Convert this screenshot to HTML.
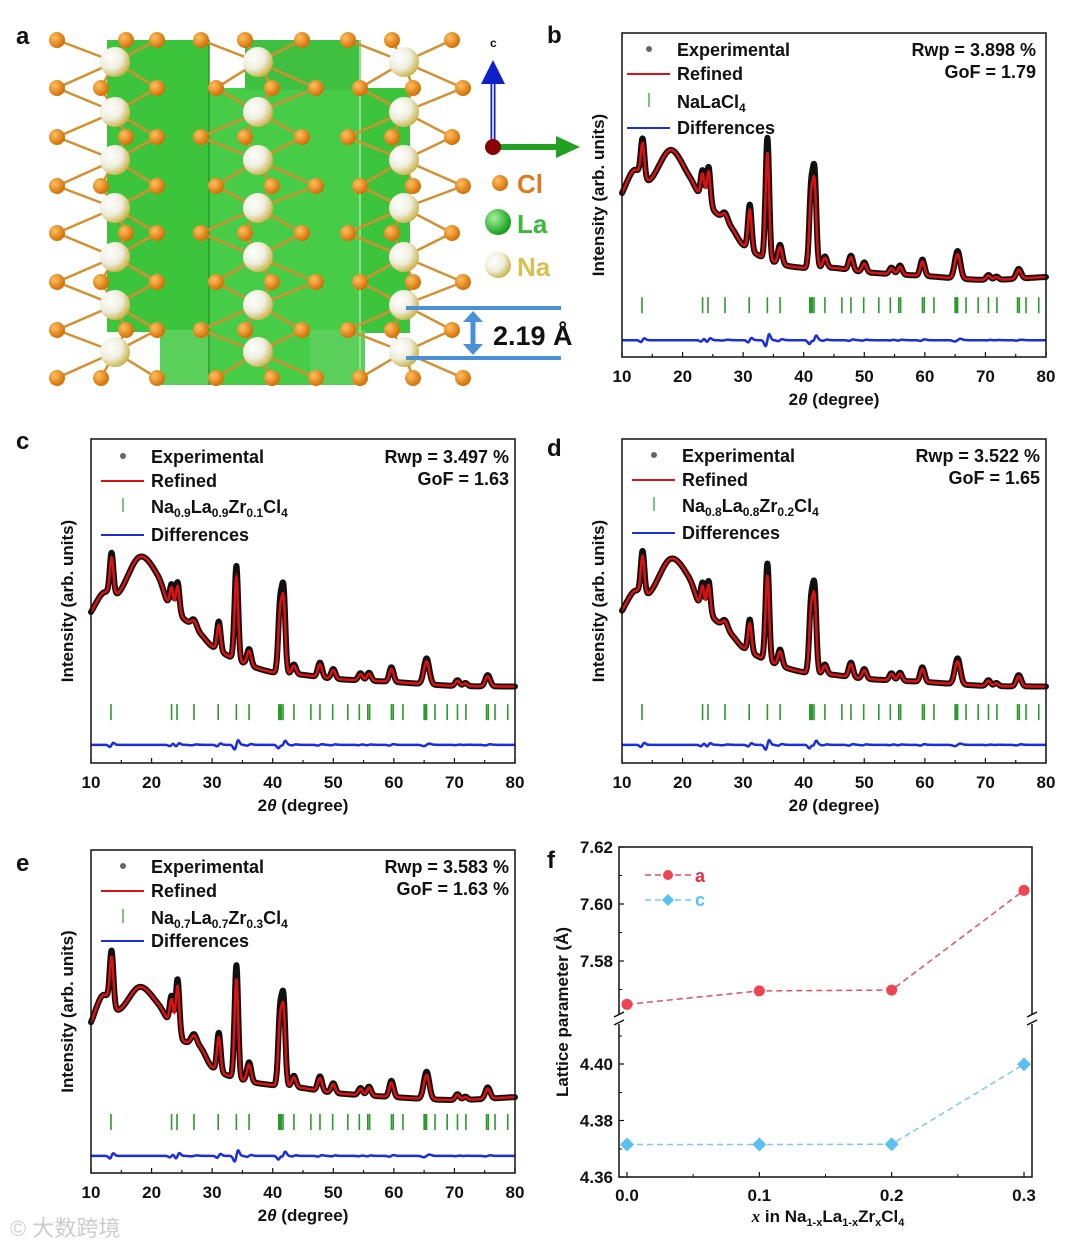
<!DOCTYPE html>
<html><head><meta charset="utf-8">
<style>
body{margin:0;background:#fff;}
svg{display:block;font-family:"Liberation Sans",Arial,sans-serif;}
.t{font-weight:bold;fill:#111;}
</style></head>
<body>
<svg id="fig" width="1080" height="1249" viewBox="0 0 1080 1249" xmlns="http://www.w3.org/2000/svg">
<defs>
<radialGradient id="naG" cx="35%" cy="35%" r="70%"><stop offset="0" stop-color="#ffffff"/><stop offset="0.55" stop-color="#eeeede"/><stop offset="1" stop-color="#c9b040"/></radialGradient>
<radialGradient id="clG" cx="35%" cy="35%" r="70%"><stop offset="0" stop-color="#ffc060"/><stop offset="1" stop-color="#d06a00"/></radialGradient>
<radialGradient id="laG" cx="35%" cy="35%" r="70%"><stop offset="0" stop-color="#a8f0a0"/><stop offset="1" stop-color="#0a9a10"/></radialGradient>
</defs>
<text class="t" x="16" y="44" font-size="24">a</text>
<text class="t" x="547" y="43" font-size="24">b</text>
<text class="t" x="16" y="449" font-size="24">c</text>
<text class="t" x="547" y="456" font-size="24">d</text>
<text class="t" x="16" y="871" font-size="24">e</text>
<text class="t" x="547" y="868" font-size="24">f</text>

<g id="structure">
  <rect x="107" y="40" width="102" height="292" fill="#3cc43c"/>
  <rect x="209" y="88" width="151" height="297" fill="#46cc46"/>
  <rect x="245" y="40" width="115" height="50" fill="#40c040"/>
  <rect x="360" y="88" width="50" height="245" fill="#3cc43c"/>
  <rect x="160" y="330" width="50" height="55" fill="#5ad05a"/>
  <rect x="310" y="330" width="55" height="55" fill="#5ad05a"/>
  <line x1="209" y1="40" x2="209" y2="385" stroke="#2a9a2a" stroke-width="1.5"/>
  <line x1="360" y1="40" x2="360" y2="385" stroke="#8fe08f" stroke-width="2"/>
  <g id="bonds"></g>
  <g id="atoms"></g>
</g>
<g>
  <line x1="493" y1="140" x2="493" y2="80" stroke="#1020c8" stroke-width="5"/>
  <line x1="493" y1="140" x2="493" y2="80" stroke="#fff" stroke-width="1.5"/>
  <polygon points="481,84 505,84 493,60" fill="#1020c8"/>
  <text x="490" y="47" font-size="12" class="t">c</text>
  <line x1="498" y1="147" x2="560" y2="147" stroke="#22a022" stroke-width="6"/>
  <polygon points="556,136 556,158 580,147" fill="#22a022"/>
  <circle cx="493" cy="147" r="8" fill="#8a0000"/>
</g>
<g>
  <circle cx="500" cy="183" r="8" fill="url(#clG)"/>
  <text x="517" y="193" font-size="26" class="t" style="fill:#e07a20">Cl</text>
  <circle cx="498" cy="222" r="13" fill="url(#laG)"/>
  <text x="517" y="233" font-size="26" class="t" style="fill:#3cb83c">La</text>
  <circle cx="498" cy="265" r="13" fill="url(#naG)"/>
  <text x="517" y="276" font-size="26" class="t" style="fill:#d8c050">Na</text>
</g>
<g>
  <line x1="406" y1="308" x2="561" y2="308" stroke="#4a90d8" stroke-width="4"/>
  <line x1="406" y1="358" x2="561" y2="358" stroke="#4a90d8" stroke-width="4"/>
  <line x1="473" y1="318" x2="473" y2="348" stroke="#4a90d8" stroke-width="5"/>
  <polygon points="463,322 483,322 473,311" fill="#4a90d8"/>
  <polygon points="463,344 483,344 473,355" fill="#4a90d8"/>
  <text x="493" y="345" font-size="27" class="t">2.19 Å</text>
</g>

<g id="panels"></g>
<g id="panelF"></g>
<text x="10" y="1236" font-size="22" fill="#ccc" font-family="'Liberation Sans','Noto Sans CJK SC',sans-serif">© 大数跨境</text>
</svg>
<script>
const peakPos   = [13.4, 23.3, 24.3, 27.0, 31.1, 34.0, 36.1, 41.2, 41.8, 43.5, 47.8, 50.0, 54.5, 55.9, 59.6, 65.4, 70.5, 71.8, 75.5];
const peakWidth = [0.3, 0.3, 0.3, 0.45, 0.3, 0.3, 0.35, 0.3, 0.3, 0.35, 0.35, 0.35, 0.35, 0.35, 0.35, 0.45, 0.35, 0.35, 0.4];
const tickPos   = [13.3, 23.3, 24.2, 27.0, 31.0, 34.0, 36.1, 41.0, 41.2, 41.4, 41.7, 43.5, 46.3, 47.8, 49.9, 52.4, 54.3, 55.7, 56.0, 59.6, 59.9, 61.5, 65.0, 65.2, 65.4, 66.8, 68.8, 70.5, 71.9, 75.3, 75.6, 76.7, 78.8];
const bgX = [10, 12, 14.5, 18, 21, 23, 25, 28, 30, 35, 40, 45, 50, 60, 70, 80];
const bgB = [506, 577, 546, 639, 562, 494, 454, 401, 346, 293, 275, 275, 262, 250, 238, 247];
const bgC = [466, 525, 525, 636, 580, 480, 450, 400, 360, 310, 280, 272, 260, 250, 238, 236];
const bgD = [470, 530, 525, 630, 575, 480, 448, 398, 356, 308, 280, 272, 260, 250, 238, 236];
const bgE = [467, 551, 505, 576, 526, 464, 412, 390, 328, 288, 272, 263, 248, 235, 226, 235];
const pkB = [117, 90, 120, 25, 140, 376, 60, 230, 280, 35, 45, 30, 20, 28, 50, 85, 15, 10, 30];
const pkC = [127, 80, 100, 25, 90, 290, 50, 200, 245, 30, 45, 30, 22, 25, 45, 80, 18, 10, 35];
const pkD = [130, 85, 105, 25, 100, 300, 50, 205, 250, 30, 45, 30, 22, 25, 45, 80, 18, 10, 35];
const pkE = [164, 93, 173, 30, 120, 350, 60, 216, 256, 35, 45, 30, 22, 28, 50, 85, 18, 10, 35];
const xTicks = [10, 20, 30, 40, 50, 60, 70, 80];

const panels = [
 {id:'b', L:622, R:1046, T:33, B:357, bg:bgB, pk:pkB, tickY:160, diffY:52, sub:[], rwp:'Rwp = 3.898 %', gof:'GoF = 1.79', legX:627, rows:[50,74,102,128], rightX:1036, ylabX:604},
 {id:'c', L:91, R:515, T:439, B:763, bg:bgC, pk:pkC, tickY:157, diffY:56, sub:['0.9','0.9','0.1'], rwp:'Rwp = 3.497 %', gof:'GoF = 1.63', legX:101, rows:[457,481,507,535], rightX:509, ylabX:73},
 {id:'d', L:622, R:1046, T:439, B:763, bg:bgD, pk:pkD, tickY:157, diffY:56, sub:['0.8','0.8','0.2'], rwp:'Rwp = 3.522 %', gof:'GoF = 1.65', legX:632, rows:[456,480,506,533], rightX:1040, ylabX:604},
 {id:'e', L:91, R:515, T:850, B:1173, bg:bgE, pk:pkE, tickY:158, diffY:53, sub:['0.7','0.7','0.3'], rwp:'Rwp = 3.583 %', gof:'GoF = 1.63 %', legX:101, rows:[867,891,918,941], rightX:509, ylabX:73}
];
const NS='http://www.w3.org/2000/svg';
function mk(tag, attrs, parent){const e=document.createElementNS(NS,tag);for(const k in attrs)e.setAttribute(k,attrs[k]);parent.appendChild(e);return e;}
function interp(xs, ys, x){
  const n=xs.length;
  for(let i=0;i<n-1;i++){
    if(x<=xs[i+1]){
      const t=(x-xs[i])/(xs[i+1]-xs[i]);
      const h=xs[i+1]-xs[i];
      const m0=i>0?(ys[i+1]-ys[i-1])/(xs[i+1]-xs[i-1]):(ys[i+1]-ys[i])/h;
      const m1=i<n-2?(ys[i+2]-ys[i])/(xs[i+2]-xs[i]):(ys[i+1]-ys[i])/h;
      const t2=t*t,t3=t2*t;
      return (2*t3-3*t2+1)*ys[i]+(t3-2*t2+t)*h*m0+(-2*t3+3*t2)*ys[i+1]+(t3-t2)*h*m1;
    }
  }
  return ys[n-1];
}

const root=document.getElementById('panels');
panels.forEach(p=>{
  const g=mk('g',{},root);
  
  
  const sx=v=>p.L+(v-10)/70*(p.R-p.L);
  const sy=v=>p.B-v/1000*(p.B-p.T);
  const prof=(x,scale)=>{let y=interp(bgX,p.bg,x);peakPos.forEach((c,i)=>{const w=peakWidth[i];y+=p.pk[i]*scale*Math.exp(-(x-c)*(x-c)/(2*w*w));});return y;};
  let dExp='',dRef='',dDiff='';
  for(let x=10;x<=80.001;x+=0.05){
    const X=sx(x).toFixed(1);
    dExp+=(dExp?'L':'M')+X+','+sy(prof(x,1)).toFixed(1);
    dRef+=(dRef?'L':'M')+X+','+sy(prof(x,0.88)).toFixed(1);
    let dv=p.diffY;
    peakPos.forEach((c,i)=>{const w=peakWidth[i];const u=(x-c)/w;dv+=p.pk[i]*0.08*u*Math.exp(-u*u/2);});
    dDiff+=(dDiff?'L':'M')+X+','+sy(dv).toFixed(1);
  }
  const ex=mk('path',{d:dExp,fill:'none',stroke:'#111','stroke-width':6,'stroke-linejoin':'round','stroke-linecap':'round'},g);
  
  
  const rf=mk('path',{d:dRef,fill:'none',stroke:'#e01010','stroke-width':2.5},g);
  
  
  const df=mk('path',{d:dDiff,fill:'none',stroke:'#1a2ee0','stroke-width':2.5},g);
  
  
  tickPos.forEach(t=>{
    const m=mk('line',{x1:sx(t),x2:sx(t),y1:sy(p.tickY)-8,y2:sy(p.tickY)+8,stroke:'#2a9a2a','stroke-width':1.6},g);
    
    
  });
  const fr=mk('rect',{x:p.L,y:p.T,width:p.R-p.L,height:p.B-p.T,fill:'none',stroke:'#111','stroke-width':1.5},g);
  
  
  for(let v=10;v<=80;v+=5){
    mk('line',{x1:sx(v),x2:sx(v),y1:p.B,y2:p.B-(v%10?3:5),stroke:'#111','stroke-width':1.2},g);
  }
  xTicks.forEach(v=>{
    const t=mk('text',{x:sx(v),y:p.B+25,'font-size':17,'text-anchor':'middle',class:'t'},g);
    t.textContent=v;
    
    
  });
  const xt=mk('text',{x:(p.L+p.R)/2,y:p.B+48,'font-size':17,'text-anchor':'middle',class:'t'},g);
  xt.innerHTML='2<tspan font-style="italic">θ</tspan> (degree)';
  
  
  const yt=mk('text',{x:0,y:0,'font-size':17,'text-anchor':'middle',class:'t',transform:`translate(${p.ylabX},${(p.T+p.B)/2}) rotate(-90)`},g);
  yt.textContent='Intensity (arb. units)';
  
  
  const lg=mk('g',{},g);
  
  
  const lx=p.legX, tx=p.legX+50;
  mk('circle',{cx:lx+22,cy:p.rows[0]-1,r:3,fill:'#666'},lg);
  mk('line',{x1:lx,x2:lx+43,y1:p.rows[1],y2:p.rows[1],stroke:'#e01010','stroke-width':2},lg);
  mk('line',{x1:lx+22,x2:lx+22,y1:p.rows[2]-9,y2:p.rows[2]+5,stroke:'#2a9a2a','stroke-width':1.2},lg);
  mk('line',{x1:lx,x2:lx+43,y1:p.rows[3],y2:p.rows[3],stroke:'#1a2ee0','stroke-width':2},lg);
  const labs=['Experimental','Refined',null,'Differences'];
  labs.forEach((s,i)=>{if(!s)return;const t=mk('text',{x:tx,y:p.rows[i]+6,'font-size':18,class:'t'},lg);t.textContent=s;});
  const ph=mk('text',{x:tx,y:p.rows[2]+6,'font-size':18,class:'t'},lg);
  if(p.sub.length){
    ph.innerHTML=`Na<tspan font-size="12" dy="4">${p.sub[0]}</tspan><tspan dy="-4">La</tspan><tspan font-size="12" dy="4">${p.sub[1]}</tspan><tspan dy="-4">Zr</tspan><tspan font-size="12" dy="4">${p.sub[2]}</tspan><tspan dy="-4">Cl</tspan><tspan font-size="12" dy="4">4</tspan>`;
  } else {
    ph.innerHTML='NaLaCl<tspan font-size="12" dy="4">4</tspan>';
  }
  const r1=mk('text',{x:p.rightX,y:p.rows[0]+6,'font-size':18,'text-anchor':'end',class:'t'},g);
  r1.textContent=p.rwp;
  
  
  const r2=mk('text',{x:p.rightX,y:p.rows[0]+28,'font-size':18,'text-anchor':'end',class:'t'},g);
  r2.textContent=p.gof;
  
  
});

const fX = [0.0, 0.1, 0.2, 0.3];
const fA = [7.5648, 7.5695, 7.5698, 7.6048];
const fC = [4.3715, 4.3715, 4.3716, 4.3999];
const fXTicks = ['0.0','0.1','0.2','0.3'];
const fTopTicks = [7.58, 7.60, 7.62];
const fBotTicks = [4.36, 4.38, 4.40];
(function(){
  const g=document.getElementById('panelF');
  
  
  const L=619,R=1032,T=847,B=1177;
  const sx=v=>627+(v-0)/0.3*(1024-627);
  const syTop=v=>904-(v-7.60)/0.02*57;
  const syBot=v=>1177-(v-4.36)/0.02*56.5;
  const fr=mk('rect',{x:L,y:T,width:R-L,height:B-T,fill:'none',stroke:'#111','stroke-width':1.5},g);
  
  
  [L,R].forEach(x=>{
    mk('rect',{x:x-4,y:1014,width:8,height:10,fill:'#fff'},g);
    mk('line',{x1:x-5,y1:1017,x2:x+5,y2:1012,stroke:'#111','stroke-width':1.5},g);
    mk('line',{x1:x-5,y1:1025,x2:x+5,y2:1020,stroke:'#111','stroke-width':1.5},g);
  });
  fTopTicks.forEach(v=>{
    const y=syTop(v);
    mk('line',{x1:L,x2:L+5,y1:y,y2:y,stroke:'#111','stroke-width':1.2},g);
    mk('line',{x1:L,x2:L+3,y1:y+28.5,y2:y+28.5,stroke:'#111','stroke-width':1},g);
    const t=mk('text',{x:L-6,y:y+6,'font-size':17,'text-anchor':'end',class:'t'},g);
    t.textContent=v.toFixed(2);
    
    
  });
  fBotTicks.forEach(v=>{
    const y=syBot(v);
    mk('line',{x1:L,x2:L+5,y1:y,y2:y,stroke:'#111','stroke-width':1.2},g);
    mk('line',{x1:L,x2:L+3,y1:y-28,y2:y-28,stroke:'#111','stroke-width':1},g);
    const t=mk('text',{x:L-6,y:y+6,'font-size':17,'text-anchor':'end',class:'t'},g);
    t.textContent=v.toFixed(2);
    
    
  });
  fX.forEach((v,i)=>{
    mk('line',{x1:sx(v),x2:sx(v),y1:B,y2:B-5,stroke:'#111','stroke-width':1.2},g);
    if(i<3) mk('line',{x1:sx(v+0.05),x2:sx(v+0.05),y1:B,y2:B-3,stroke:'#111','stroke-width':1},g);
    const t=mk('text',{x:sx(v),y:B+24,'font-size':17,'text-anchor':'middle',class:'t'},g);
    t.textContent=fXTicks[i];
    
    
  });
  const pa=mk('polyline',{points:fX.map((v,i)=>sx(v)+','+syTop(fA[i])).join(' '),fill:'none',stroke:'#e05060','stroke-width':1.5,'stroke-dasharray':'6,4'},g);
  
  
  const pc=mk('polyline',{points:fX.map((v,i)=>sx(v)+','+syBot(fC[i])).join(' '),fill:'none',stroke:'#7cc8ee','stroke-width':1.5,'stroke-dasharray':'6,4'},g);
  
  
  fX.forEach((v,i)=>{
    const c=mk('circle',{cx:sx(v),cy:syTop(fA[i]),r:5.5,fill:'#ee4450'},g);
    
    
    const X=sx(v),Y=syBot(fC[i]);
    const d=mk('polygon',{points:`${X},${Y-7} ${X+7},${Y} ${X},${Y+7} ${X-7},${Y}`,fill:'#5ac0f0'},g);
    
    
  });
  const lg=mk('g',{},g);
  
  
  mk('line',{x1:645,x2:692,y1:875,y2:875,stroke:'#e05060','stroke-width':1.5,'stroke-dasharray':'6,4'},lg);
  mk('circle',{cx:668,cy:875,r:5,fill:'#ee4450'},lg);
  const ta=mk('text',{x:695,y:882,'font-size':18,class:'t',style:'fill:#e03040'},lg); ta.textContent='a';
  mk('line',{x1:645,x2:692,y1:900,y2:900,stroke:'#7cc8ee','stroke-width':1.5,'stroke-dasharray':'6,4'},lg);
  mk('polygon',{points:'668,894 674,900 668,906 662,900',fill:'#5ac0f0'},lg);
  const tc=mk('text',{x:695,y:906,'font-size':18,class:'t',style:'fill:#5ac0f0'},lg); tc.textContent='c';
  const yt=mk('text',{x:0,y:0,'font-size':17,'text-anchor':'middle',class:'t',transform:'translate(568,1012) rotate(-90)'},g);
  yt.textContent='Lattice parameter (Å)';
  
  
  const xt=mk('text',{x:828,y:1222,'font-size':17,'text-anchor':'middle',class:'t'},g);
  xt.innerHTML='<tspan font-style="italic" font-family="Liberation Serif">x</tspan> in Na<tspan font-size="11" dy="4">1-x</tspan><tspan dy="-4">La</tspan><tspan font-size="11" dy="4">1-x</tspan><tspan dy="-4">Zr</tspan><tspan font-size="11" dy="4">x</tspan><tspan dy="-4">Cl</tspan><tspan font-size="11" dy="4">4</tspan>';
  
  
})();

(function(){
  const atoms=document.getElementById('atoms'), bonds=document.getElementById('bonds');
  const rows=[40,88,137,186,233,282,330,378];
  const xe=[57,126,157,201,245,302,348,392,452];
  const xo=[57,101,157,216,272,316,360,413,463];
  const naX=[115,258,404], naY=[62,112,160,208,257,305,352];
  rows.forEach((y,i)=>{
    const xs=i%2?xo:xe;
    xs.forEach(x=>{
      naX.forEach(nx=>{ if(Math.abs(nx-x)<65){ naY.forEach(ny=>{ if(Math.abs(ny-y)<30) mk('line',{x1:x,y1:y,x2:nx,y2:ny,stroke:'#d49030','stroke-width':2.5},bonds);});}});
    });
  });
  naX.forEach(nx=>naY.forEach(ny=>{
    const c=mk('circle',{cx:nx,cy:ny,r:15,fill:'url(#naG)'},atoms);
    
    
  }));
  rows.forEach((y,i)=>{
    (i%2?xo:xe).forEach(x=>{
      const c=mk('circle',{cx:x,cy:y,r:8,fill:'url(#clG)'},atoms);
      
      
    });
  });
})();
</script>
</body></html>
